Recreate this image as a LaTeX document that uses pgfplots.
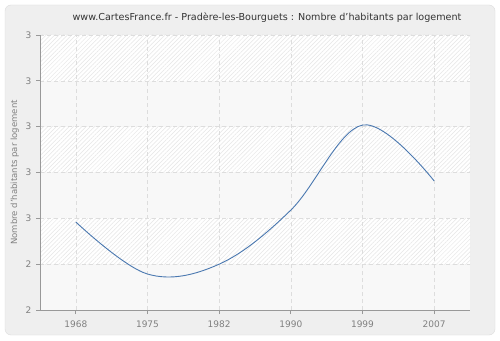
\documentclass[border=0pt]{standalone}
\usepackage{fontspec}
\setmainfont{DejaVu Sans}
\usepackage{pgfplots}
\pgfplotsset{compat=1.18}
\usetikzlibrary{patterns.meta}
\definecolor{bgout}{HTML}{EFEFEF}
\definecolor{bgborder}{HTML}{DDDDDD}
\definecolor{gridc}{HTML}{DDDDDD}
\definecolor{axc}{HTML}{999999}
\definecolor{tickc}{HTML}{808080}
\definecolor{linec}{HTML}{4A78B0}
\definecolor{hatchc}{HTML}{E6E6E6}
\definecolor{bandlight}{HTML}{F8F8F8}
\tikzset{hatchband/.style={pattern={Lines[angle=45,distance=3pt,line width=0.5pt]}, pattern color=hatchc}}
\begin{document}
\begin{tikzpicture}[x=1pt,y=1pt]
\fill[white] (0,0) rectangle (500,340);
\filldraw[fill=bgout,draw=bgborder,rounded corners=6pt] (5,5) rectangle (495,335);
\node[text=black!80,font=\fontsize{9.6}{11}\selectfont] at (267,322) {www.CartesFrance.fr - Pradère-les-Bourguets : Nombre d'habitants par logement};
% plot area bands (decoration)
\fill[bandlight] (40,30) rectangle (470,305);
\fill[white] (40,75.833) rectangle (470,121.667);
\fill[hatchband] (40,75.833) rectangle (470,121.667);
\fill[white] (40,167.5) rectangle (470,213.333);
\fill[hatchband] (40,167.5) rectangle (470,213.333);
\fill[white] (40,259.167) rectangle (470,305);
\fill[hatchband] (40,259.167) rectangle (470,305);
\begin{axis}[
  at={(40pt,30pt)}, anchor=south west,
  scale only axis, width=430pt, height=275pt,
  xmin=-0.5, xmax=5.5, ymin=2.2, ymax=3.4,
  xtick={0,1,2,3,4,5},
  xticklabels={1968,1975,1982,1990,1999,2007},
  ytick={2.2,2.4,2.6,2.8,3.0,3.2,3.4},
  yticklabels={2,2,3,3,3,3,3},
  axis x line*=bottom, axis y line*=left,
  axis line style={axc, line width=0.8pt, -},
  tick style={axc, line width=0.8pt},
  tick align=outside, major tick length=4pt,
  grid=major,
  major grid style={gridc, line width=0.6pt, dash pattern=on 4pt off 3pt},
  ticklabel style={text=tickc, font=\fontsize{9}{10}\selectfont},
  xticklabel style={yshift=-3pt},
  yticklabel style={xshift=-1pt},
  ylabel={Nombre d'habitants par logement},
  ylabel style={text=tickc, font=\fontsize{8.5}{10}\selectfont},
  /pgf/number format/assume math mode=true,
  clip=false,
]
\addplot[linec, line width=0.9pt, smooth, tension=0.6, mark=none] coordinates {
(0,2.584) (1,2.357) (2,2.400) (3,2.636) (4,3.007) (5,2.763)
};
\end{axis}
\end{tikzpicture}
\end{document}
